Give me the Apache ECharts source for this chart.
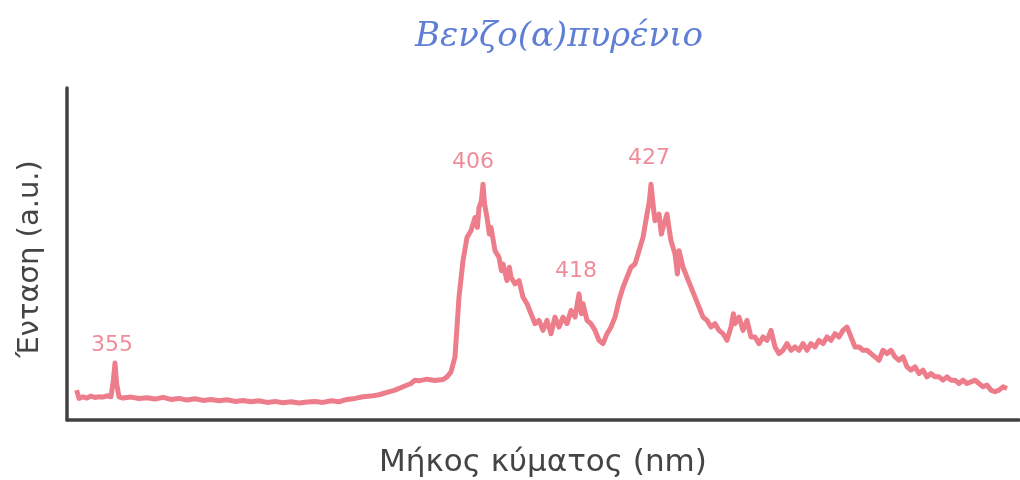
<!DOCTYPE html>
<html>
<head>
<meta charset="utf-8">
<script src="https://cdn.jsdelivr.net/npm/echarts@6/dist/echarts.min.js"></script>
<style>html,body{margin:0;padding:0;background:#fff}#c{width:1020px;height:480px}</style>
</head>
<body>
<div id="c"></div>
<script>
const titleText = 'Βενζο(α)πυρένιο';
const xAxisName = 'Μήκος κύματος (nm)';
const yAxisName = 'Ένταση (a.u.)';

const wavelength = [
355.2,355.5,356,356.5,357,357.5,358,358.5,359,359.5,359.8,360,360.2,360.5,361,362,363,364,365,366,367,368,369,370,371,372,373,374,375,376,377,378,379,380,381,382,383,384,385,386,387,388,389,390,391,392,393,394,395,396,397,397.5,398,399,400,401,401.5,
402,402.5,403,403.5,404,404.5,405,405.3,405.5,405.8,406,406.2,406.5,406.8,407,407.5,408,408.3,408.5,409,409.3,409.5,410,410.5,411,411.5,412,412.5,413,413.5,414,414.5,415,415.5,416,416.5,417,417.5,418,418.3,418.5,419,419.5,420,420.5,421,421.5,422,422.5,423,423.5,424,424.5,425,425.5,426,426.5,426.8,427,427.3,427.5,428,428.3,428.5,429,429.3,429.5,430,430.3,430.5,431,431.5,432,432.5,433,433.5,434,434.5,435,435.5,436,436.5,437,437.3,437.5,438,438.5,439,439.5,440,440.5,441,441.5,442,442.5,443,443.5,444,444.5,445,445.5,446,446.5,447,447.5,448,448.5,449,449.5,450,450.5,451,451.5,452,452.5,453,453.5,454,454.5,455,455.5,456,456.5,457,457.5,458,458.5,459,459.5,460,460.5,461,461.5,462,462.5,463,463.5,464,464.5,465,465.5,466,466.5,467,467.5,468,468.5,469,469.5,470,470.5,471,471.5
];
const intensity = [
9.0,6.5,7.0,6.6,7.2,6.8,7.0,6.9,7.3,7.0,12.0,17.2,11.0,7.0,6.6,6.9,6.5,6.7,6.3,6.8,6.2,6.5,6.0,6.4,5.9,6.2,5.8,6.1,5.6,5.9,5.5,5.8,5.3,5.6,5.2,5.5,5.1,5.4,5.6,5.3,5.8,5.5,6.2,6.5,7.0,7.2,7.6,8.3,9.0,10.0,11.0,12.0,11.8,12.3,11.9,12.2,13.0,
14.5,19,37,48,55,57,61,58,64,66,71,65,61,56,58,51,49,45,47,42,46,43,41,42,37,35,32,29,30,27,30,26,31,28,31,29,33,31,38,32,35,30,29,27,24,23,26,28,31,36,40,43,46,47,51,55,62,66,71,64,60,62,56,58,62,57,54,50,44,51,46,43,40,37,34,31,30,28,29,27,26,24,28,32,29,31,27,30,25,25,23,25,24,27,22,20,21,23,21,22,21,23,21,23,22,24,23,25,24,26,25,27,28,25,22,22,21,21,20,19,18,21,20,21,19,18,19,16,15,16,14,15,13,14,13,13,12,13,12,12,11,12,11,11.5,12,11,10,10.5,9,8.5,9,10,9.5
];

const peakLabels = ['355','406','418','427'];
const peakWavelength = [360, 406, 418, 427];
const peakIntensity = [17.2, 71, 38, 71];

const chart = echarts.init(document.getElementById('c'), null, {renderer:'canvas'});
const lineColor = '#ee7d8b';
const labelOffsets = [[-3,-2],[-10,-6],[-3,-7],[-2,-10]];

chart.setOption({
  animation: false,
  backgroundColor: '#ffffff',
  title: {
    text: titleText,
    left: 554, top: 15, textAlign: 'center',
    textStyle: {fontFamily: 'DejaVu Serif', fontStyle: 'italic', fontWeight: 'normal', fontSize: 34, color: '#5f7fd6'}
  },
  grid: {left: 67, right: 1, top: 88, bottom: 60, containLabel: false, outerBoundsMode: 'none'},
  xAxis: {
    type: 'value', min: 354, max: 473,
    name: xAxisName, nameLocation: 'middle', nameGap: 27,
    nameTextStyle: {fontFamily: 'DejaVu Sans', fontSize: 31, color: '#444'},
    axisLine: {show: true, lineStyle: {color: '#424242', width: 3.5}},
    axisTick: {show: false},
    axisLabel: {show: false},
    splitLine: {show: false}
  },
  yAxis: {
    type: 'value', min: 0, max: 100, interval: 10,
    name: yAxisName, nameLocation: 'middle', nameGap: 22, nameRotate: 90,
    nameTextStyle: {fontFamily: 'DejaVu Sans', fontSize: 29, color: '#444', padding: [0, 10, 0, 0]},
    axisLine: {show: true, lineStyle: {color: '#424242', width: 3.5}},
    axisTick: {show: false},
    axisLabel: {show: false},
    splitLine: {show: false}
  },
  series: [
    {
      type: 'line',
      data: wavelength.map((w, i) => [w, intensity[i]]),
      showSymbol: false,
      smooth: false,
      lineStyle: {color: lineColor, width: 5, join: 'round'},
      z: 2
    },
    {
      type: 'scatter',
      data: peakWavelength.map((w, i) => ({value: [w, peakIntensity[i]], label: {offset: labelOffsets[i]}, name: peakLabels[i]})),
      symbolSize: 0,
      label: {
        show: true, position: 'top',
        formatter: p => p.name,
        fontFamily: 'DejaVu Sans', fontSize: 22, color: '#ec6f80'
      },
      z: 3
    }
  ]
});
</script>
</body>
</html>
